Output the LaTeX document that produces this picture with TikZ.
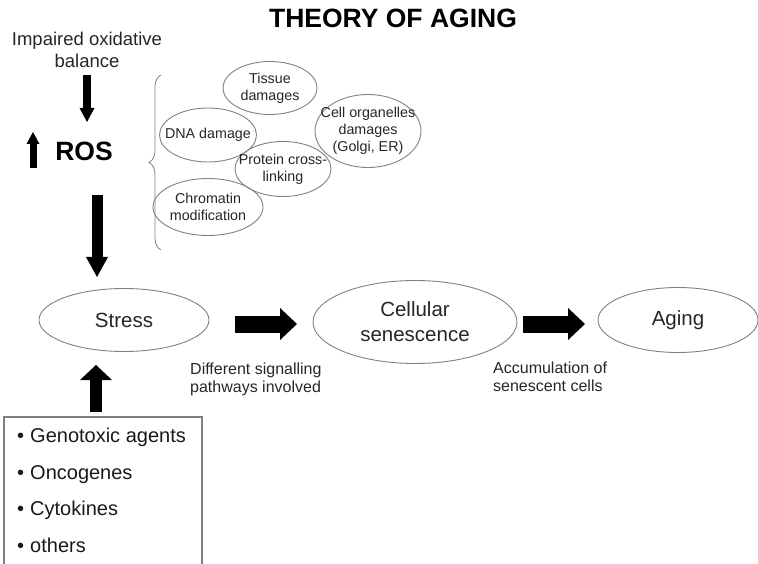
\documentclass[tikz,border=0pt]{standalone}
\usepackage{fontspec}
\setmainfont{Liberation Sans}
\usetikzlibrary{arrows.meta,positioning,shapes.geometric,decorations.pathreplacing}

\begin{document}
\begin{tikzpicture}[x=1pt,y=-1pt,
    oval/.style={draw=black!50, line width=0.9pt, ellipse, inner sep=0pt, align=center, text=black!85},
    damage/.style={oval},
    damtext/.style={font=\fontsize{14.3}{16.8}\selectfont, align=center, inner sep=0pt, text=black!85},
    stage/.style={oval, font=\fontsize{20.5}{25}\selectfont},
    note/.style={font=\fontsize{16}{18}\selectfont, align=left, anchor=north west, inner sep=0pt, text=black!85},
    item/.style={font=\fontsize{20}{24}\selectfont, anchor=base west, inner sep=0pt, text=black!90},
    blockarrow/.style={line width=17pt, -{Triangle[length=17pt, width=32pt, line width=0pt]}},
]
    % Page
    \clip (0,0) rectangle (758,564);

    % Title
    \node[font=\fontsize{26.5}{30}\selectfont\bfseries] (title) at (393,18) {THEORY OF AGING};

    % Oxidative side
    \node[font=\fontsize{18.5}{22}\selectfont, align=center, text=black!85] (imp) at (87,50) {Impaired oxidative\\balance};
    \node[font=\fontsize{26.5}{30}\selectfont\bfseries] (ros) at (84,151) {ROS};
    \draw[line width=7pt, -{Triangle[length=12pt, width=13pt, line width=0pt]}] (33,168) -- (33,132);

    \coordinate (impout) at (87,75);
    \coordinate (rosin) at (87,122);
    \draw[line width=8pt, -{Triangle[length=14pt, width=15pt, line width=0pt]}] (impout) -- (rosin);

    % Damages caused by ROS
    \draw[black!50, line width=0.8pt, decorate, decoration={brace, amplitude=12pt}] (161,250) -- (161,75);
    \node[damage, minimum width=94pt, minimum height=53pt] (tissue) at (270,88) {};
    \node[damage, minimum width=97pt, minimum height=54pt] (dna) at (208,135) {};
    \node[damage, minimum width=106pt, minimum height=73pt] (organelle) at (368,131) {};
    \node[damage, minimum width=96pt, minimum height=55pt] (protein) at (283,169) {};
    \node[damage, minimum width=110pt, minimum height=57pt] (chromatin) at (208,207) {};
    \node[damtext] (tissuetext) at (tissue) {Tissue\\damages};
    \node[damtext] (dnatext) at (dna) {DNA damage};
    \node[damtext] (organelletext) at (organelle) {Cell organelles\\damages\\(Golgi, ER)};
    \node[damtext] (proteintext) at (protein) {Protein cross-\\linking};
    \node[damtext] (chromatintext) at (chromatin) {Chromatin\\modification};

    % Main row
    \node[stage, minimum width=170pt, minimum height=63pt] (stress) at (124,320) {Stress};
    \node[stage, minimum width=204pt, minimum height=83pt] (senescence) at (415,322) {Cellular\\senescence};
    \node[stage, minimum width=160pt, minimum height=65pt] (aging) at (678,320) {Aging};

    \coordinate (signalout) at (235,324);
    \coordinate (signalin) at (297,324);
    \coordinate (accumout) at (523,324);
    \coordinate (accumin) at (585,324);
    \draw[blockarrow] (signalout) -- (signalin);
    \draw[blockarrow] (accumout) -- (accumin);

    \node[note] (signal) at (190,363) {Different signalling\\pathways involved};
    \node[note] (accum) at (493,362) {Accumulation of\\senescent cells};

    % ROS leads to stress
    \coordinate (rosout) at (97,195);
    \coordinate (stressin) at (97,277);
    \draw[line width=11pt, -{Triangle[length=20pt, width=22pt, line width=0pt]}] (rosout) -- (stressin);

    % Other stressors
    \draw[black!50, line width=1.1pt] (4,580) -- (4,417) -- (202,417) -- (202,580);
    \node[item] (geno) at (17,442) {\textbullet\hspace{6pt}Genotoxic agents};
    \node[item] (onco) at (17,479) {\textbullet\hspace{6pt}Oncogenes};
    \node[item] (cyto) at (17,515) {\textbullet\hspace{6pt}Cytokines};
    \node[item] (others) at (17,552) {\textbullet\hspace{6pt}others};

    \coordinate (boxout) at (96,412);
    \coordinate (stressup) at (96,365);
    \draw[line width=12pt, -{Triangle[length=15pt, width=32pt, line width=0pt]}] (boxout) -- (stressup);
\end{tikzpicture}
\end{document}
